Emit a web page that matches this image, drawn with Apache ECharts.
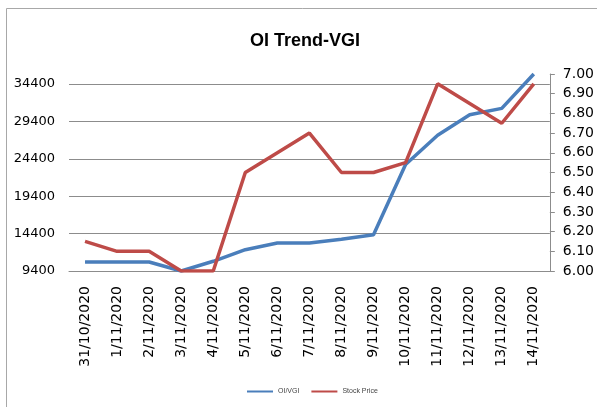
<!DOCTYPE html>
<html>
<head>
<meta charset="utf-8">
<script src="https://cdn.jsdelivr.net/npm/echarts@6/dist/echarts.min.js"></script>
<style>
  html, body { margin: 0; padding: 0; background: #fff; }
  #main { width: 597px; height: 407px; }
</style>
</head>
<body>
<div id="main"></div>
<script>
// data
var dates = ['31/10/2020', '1/11/2020', '2/11/2020', '3/11/2020', '4/11/2020', '5/11/2020', '6/11/2020',
  '7/11/2020', '8/11/2020', '9/11/2020', '10/11/2020', '11/11/2020', '12/11/2020', '13/11/2020', '14/11/2020'];
var oiVgi = [10600, 10600, 10600, 9400, 10700, 12250, 13150, 13150, 13650, 14250, 23650, 27550, 30300, 31150, 35750];
var stockPrice = [6.15, 6.10, 6.10, 6.00, 6.00, 6.50, 6.60, 6.70, 6.50, 6.50, 6.55, 6.95, 6.85, 6.75, 6.95];
var seriesNames = ['OI/VGI', 'Stock Price'];

var myChart = echarts.init(document.getElementById('main'));
var option = {
  backgroundColor: '#fff',
  animation: false,
  title: {
    text: 'OI Trend-VGI',
    left: 245,
    top: 27,
    textStyle: { fontFamily: 'Liberation Sans', fontWeight: 'bold', fontSize: 18, color: '#000' }
  },
  graphic: [{
    type: 'rect',
    shape: { x: 6.5, y: 8.5, width: 620, height: 420 },
    style: { fill: 'none', stroke: '#a8a8a8', lineWidth: 1 },
    silent: true
  }],
  legend: {
    data: seriesNames,
    left: 242,
    top: 383,
    icon: 'rect',
    itemWidth: 26,
    itemHeight: 2,
    itemGap: 12,
    textStyle: { fontFamily: 'Liberation Sans', fontSize: 7, color: '#444' }
  },
  grid: { left: 69, right: 46, top: 74, bottom: 136 },
  xAxis: {
    type: 'category',
    data: dates,
    boundaryGap: true,
    axisLine: { lineStyle: { color: '#8c8c8c', width: 1 } },
    axisTick: { show: false },
    axisLabel: {
      rotate: 90,
      margin: 15,
      interval: 0,
      fontFamily: 'DejaVu Sans',
      fontSize: 14,
      color: '#000'
    }
  },
  yAxis: [{
    type: 'value',
    min: 9400,
    max: 35750,
    interval: 5000,
    axisLine: { show: false },
    axisTick: { show: false },
    axisLabel: {
      showMaxLabel: false,
      margin: 14,
      fontFamily: 'DejaVu Sans',
      fontSize: 13,
      color: '#000',
      formatter: function (v) { return String(v); }
    },
    splitLine: { show: true, showMaxLine: false, lineStyle: { color: '#8c8c8c', width: 1 } }
  }, {
    type: 'value',
    position: 'right',
    min: 6,
    max: 7,
    interval: 0.1,
    axisLine: { show: true, lineStyle: { color: '#8c8c8c', width: 1 } },
    axisTick: { show: true, inside: false, length: 5, lineStyle: { color: '#8c8c8c' } },
    axisLabel: {
      margin: 13,
      fontFamily: 'DejaVu Sans',
      fontSize: 14,
      color: '#000',
      formatter: function (v) { return v.toFixed(2); }
    },
    splitLine: { show: false }
  }],
  series: [{
    name: seriesNames[0],
    type: 'line',
    yAxisIndex: 0,
    data: oiVgi,
    showSymbol: false,
    symbol: 'none',
    itemStyle: { color: '#4A7EBB' },
    lineStyle: { color: '#4A7EBB', width: 3.5 }
  }, {
    name: seriesNames[1],
    type: 'line',
    yAxisIndex: 1,
    data: stockPrice,
    showSymbol: false,
    symbol: 'none',
    itemStyle: { color: '#BE4B48' },
    lineStyle: { color: '#BE4B48', width: 3.5 }
  }]
};
myChart.setOption(option);
</script>
</body>
</html>
